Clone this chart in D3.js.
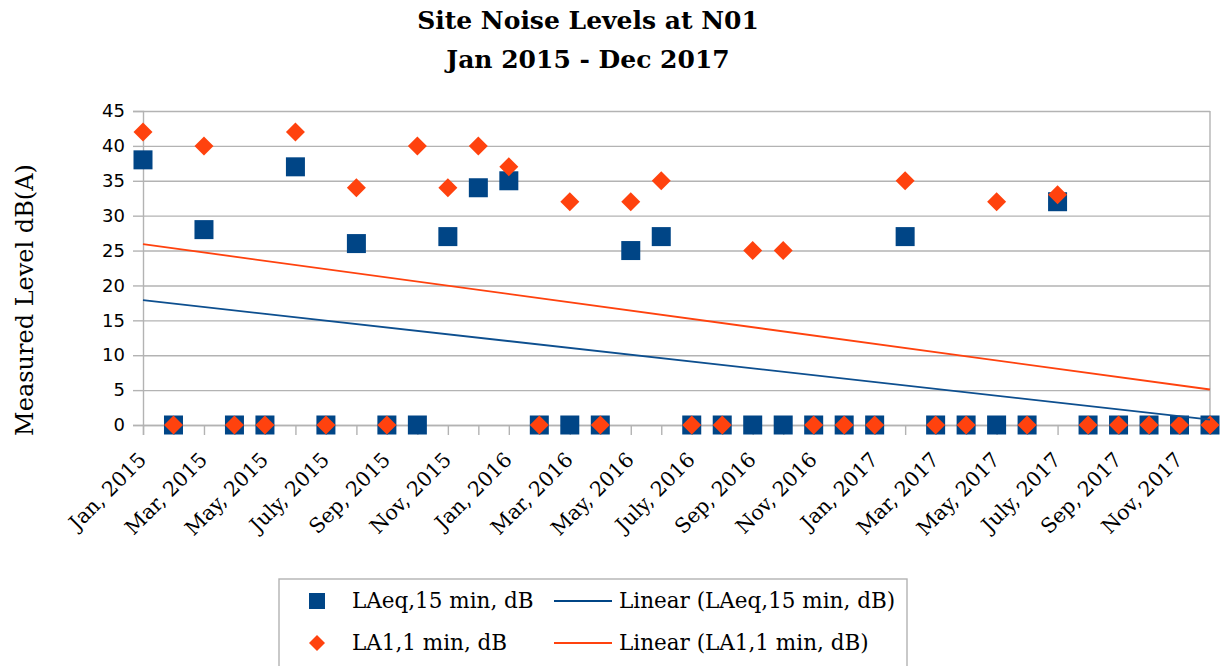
<!DOCTYPE html>
<html>
<head>
<meta charset="utf-8">
<script src="https://cdn.jsdelivr.net/npm/d3@7"></script>
<style>
  html, body { margin: 0; padding: 0; background: #fff; }
  svg { display: block; }
</style>
</head>
<body>
<svg id="chart" width="1225" height="666"></svg>
<script>
// ---- data ----
const categories = [
  "Jan, 2015","Feb, 2015","Mar, 2015","Apr, 2015","May, 2015","Jun, 2015",
  "July, 2015","Aug, 2015","Sep, 2015","Oct, 2015","Nov, 2015","Dec, 2015",
  "Jan, 2016","Feb, 2016","Mar, 2016","Apr, 2016","May, 2016","Jun, 2016",
  "July, 2016","Aug, 2016","Sep, 2016","Oct, 2016","Nov, 2016","Dec, 2016",
  "Jan, 2017","Feb, 2017","Mar, 2017","Apr, 2017","May, 2017","Jun, 2017",
  "July, 2017","Aug, 2017","Sep, 2017","Oct, 2017","Nov, 2017","Dec, 2017"
];
const laeq = [38,0,28,0,0,37,0,26,0,0,27,34,35,0,0,0,25,27,0,0,0,0,0,0,0,27,0,0,0,0,32,0,0,0,0,0];
const la1  = [42,0,40,0,0,42,0,34,0,40,34,40,37,0,32,0,32,35,0,0,25,25,0,0,0,35,0,0,32,0,33,0,0,0,0,0];
const yTicks = [0,5,10,15,20,25,30,35,40,45];
const titleLines = ["Site Noise Levels at N01", "Jan 2015 - Dec 2017"];
const yTitle = "Measured Level dB(A)";
const seriesNames = ["LAeq,15 min, dB", "LA1,1 min, dB"];
const trendNames = ["Linear (LAeq,15 min, dB)", "Linear (LA1,1 min, dB)"];

// ---- layout ----
const BLUE = "#004586", ORANGE = "#ff420e", GRID = "#b3b3b3";
const pL = 143, pR = 1210, pT = 111, pB = 425;
const svg = d3.select("#chart");

const x = d3.scaleLinear().domain([0, categories.length - 1]).range([pL, pR]);
const y = d3.scaleLinear().domain([0, 45]).range([pB, pT]);

// linear regression (trend lines, as in the source chart)
function linreg(vals) {
  const n = vals.length, xs = d3.range(n);
  const mx = d3.mean(xs), my = d3.mean(vals);
  let sxy = 0, sxx = 0;
  xs.forEach((xi, i) => { sxy += (xi - mx) * (vals[i] - my); sxx += (xi - mx) * (xi - mx); });
  const b = sxy / sxx, a = my - b * mx;
  return [[0, a], [n - 1, a + b * (n - 1)]];
}

// title
svg.append("g").selectAll("text").data(titleLines).join("text")
  .attr("x", 588).attr("y", (d, i) => 29 + i * 39)
  .attr("text-anchor", "middle")
  .style("font-family", "DejaVu Serif").style("font-weight", "bold").style("font-size", "25px")
  .attr("fill", "#000").text(d => d);

// gridlines
svg.append("g").attr("transform", `translate(${pL},0)`)
  .call(d3.axisLeft(y).tickValues(yTicks).tickSize(-(pR - pL)).tickFormat(""))
  .call(g => g.select(".domain").remove())
  .call(g => g.selectAll("line").attr("stroke", GRID).attr("stroke-width", 1.4));

// right border
svg.append("line").attr("x1", pR).attr("x2", pR).attr("y1", pT).attr("y2", pB)
  .attr("stroke", GRID).attr("stroke-width", 1.4);

// y axis
svg.append("g").attr("transform", `translate(${pL},0)`)
  .call(d3.axisLeft(y).tickValues(yTicks).tickSize(10).tickPadding(8))
  .call(g => g.select(".domain").attr("stroke", GRID).attr("stroke-width", 1.4))
  .call(g => g.selectAll("line").attr("stroke", GRID).attr("stroke-width", 1.4))
  .call(g => g.selectAll("text").style("font-family", "DejaVu Sans").style("font-size", "18px").attr("fill", "#000"));

// x axis
svg.append("g").attr("transform", `translate(0,${pB})`)
  .call(d3.axisBottom(x).tickValues(d3.range(categories.length)).tickSize(10)
    .tickFormat(i => i % 2 === 0 ? categories[i] : ""))
  .call(g => g.select(".domain").attr("stroke", GRID).attr("stroke-width", 1.4))
  .call(g => g.selectAll("line").attr("stroke", GRID).attr("stroke-width", 1.4))
  .call(g => g.selectAll("text")
    .attr("y", null).attr("dy", null).attr("x", null)
    .attr("transform", "translate(4,36) rotate(-45)")
    .attr("text-anchor", "end")
    .style("font-family", "DejaVu Serif").style("font-size", "20.5px").attr("fill", "#000"));

// y title
svg.append("text")
  .attr("transform", "translate(33,300) rotate(-90)")
  .attr("text-anchor", "middle")
  .style("font-family", "DejaVu Serif").style("font-size", "24px").attr("fill", "#000")
  .text(yTitle);

// markers
const sq = 19, dm = 9.5;
svg.append("g").selectAll("rect").data(laeq).join("rect")
  .attr("x", (d, i) => x(i) - sq / 2).attr("y", d => y(d) - sq / 2)
  .attr("width", sq).attr("height", sq).attr("fill", BLUE);

svg.append("g").selectAll("path").data(la1).join("path")
  .attr("d", (d, i) => `M${x(i)},${y(d) - dm}L${x(i) + dm},${y(d)}L${x(i)},${y(d) + dm}L${x(i) - dm},${y(d)}Z`)
  .attr("fill", ORANGE);

// trend lines
const line = d3.line().x(d => x(d[0])).y(d => y(d[1]));
svg.append("path").attr("d", line(linreg(laeq))).attr("fill", "none").attr("stroke", "#0d4f8f").attr("stroke-width", 1.8);
svg.append("path").attr("d", line(linreg(la1))).attr("fill", "none").attr("stroke", ORANGE).attr("stroke-width", 1.8);

// legend
const lg = svg.append("g");
lg.append("rect").attr("x", 279).attr("y", 579).attr("width", 628).attr("height", 95)
  .attr("fill", "#fff").attr("stroke", GRID).attr("stroke-width", 1.4);
const rowY = [601, 643];
lg.append("rect").attr("x", 317 - 8).attr("y", rowY[0] - 8).attr("width", 16).attr("height", 16).attr("fill", BLUE);
lg.append("path").attr("d", `M317,${rowY[1] - 8}L325,${rowY[1]}L317,${rowY[1] + 8}L309,${rowY[1]}Z`).attr("fill", ORANGE);
[BLUE, ORANGE].forEach((c, i) => {
  lg.append("line").attr("x1", 554).attr("x2", 612).attr("y1", rowY[i]).attr("y2", rowY[i])
    .attr("stroke", c).attr("stroke-width", 1.8);
});
lg.selectAll("text.s").data(seriesNames).join("text").attr("class", "s")
  .attr("x", 352).attr("y", (d, i) => rowY[i] + 7)
  .style("font-family", "DejaVu Serif").style("font-size", "21.5px").attr("fill", "#000").text(d => d);
lg.selectAll("text.t").data(trendNames).join("text").attr("class", "t")
  .attr("x", 619).attr("y", (d, i) => rowY[i] + 7)
  .style("font-family", "DejaVu Serif").style("font-size", "21.5px").attr("fill", "#000").text(d => d);
</script>
</body>
</html>
